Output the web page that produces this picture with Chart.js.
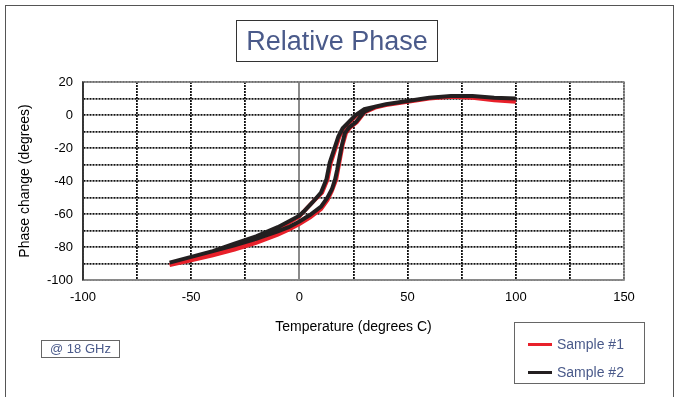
<!DOCTYPE html>
<html>
<head>
<meta charset="utf-8">
<script src="https://cdn.jsdelivr.net/npm/chart.js@4.4.0/dist/chart.umd.min.js"></script>
<style>
  body { margin: 0; background: #fff; font-family: "Liberation Sans", Arial, sans-serif; }
  #wrap { position: relative; width: 679px; height: 397px; overflow: hidden; }
  #frame { position: absolute; left: 5px; top: 5px; width: 669px; height: 400px; border: 1.5px solid #555; box-sizing: border-box; }
  #chartTitle { position: absolute; left: 236px; top: 20px; width: 202px; height: 42px; border: 1px solid #333;
    box-sizing: border-box; text-align: center; line-height: 40px; font-size: 27px; color: #4a5a8a; }
  #freq { position: absolute; left: 41px; top: 340px; width: 79px; height: 18px; border: 1px solid #666;
    box-sizing: border-box; text-align: center; line-height: 16px; font-size: 13px; color: #4a5a8a; }
  #legend { position: absolute; left: 514px; top: 322px; width: 131px; height: 62px; border: 1px solid #666; box-sizing: border-box; }
  .item { position: absolute; left: 13px; font-size: 14px; color: #4a5a8a; height: 16px; line-height: 16px; }
  .item span.sw { position: absolute; left: 0; top: 7px; width: 24px; height: 3px; }
  .item span.tx { position: absolute; left: 29px; white-space: nowrap; }
</style>
</head>
<body>
<div id="wrap">
  <div id="frame"></div>
  <canvas id="phaseChart" width="679" height="397" style="position:absolute;left:0;top:0;"></canvas>
  <div id="chartTitle">Relative Phase</div>
  <div id="freq">@ 18 GHz</div>
  <div id="legend"></div>
</div>
<script>
// sample #1 (red): heating branch then cooling branch
var sample1Temp = [-60,-50,-40,-30,-20,-10,-5,0,5,10,13,15,17,18,19,20,21.5,23.5,26.5,30,35,40,50,60,70,80,90,100,
                   90,80,70,60,50,40,35,30,26.5,23.5,20.5,18.5,16.5,14.5,13,10.5,6,2,0,-5,-10,-20,-30,-40,-50,-60];
var sample1Phase = [-91,-88,-85,-81.5,-77.5,-72.5,-69.5,-66,-62,-57,-51.5,-46,-39,-32,-25,-18,-11,-7.5,-4.5,1.5,4.5,6,8,10,11,10.5,9,8,
                    9,10.5,11,10,8,6,4.5,3,0,-4,-8,-13,-21,-29,-39,-47,-53,-58.5,-61.5,-65.5,-69.5,-75,-79.5,-84,-87.5,-91];

// sample #2 (black)
var sample2Temp = [-60,-50,-40,-30,-20,-10,-5,0,5,10,13,15,16.5,17.5,18.5,19.5,21,23,26,30,35,40,50,60,70,80,90,100,
                   90,80,70,60,50,40,35,30,26,23,20,18,16,14,12.5,10,6,2,0,-5,-10,-20,-30,-40,-50,-60];
var sample2Phase = [-89.5,-86,-82.5,-79,-75,-70.5,-68,-64.5,-60.5,-55.5,-50,-45,-39,-33,-26,-19,-11,-7.5,-4.5,2,5,6.5,8.5,10.5,11.5,11.5,10.5,10,
                    10.5,11.5,11.5,10.5,8.5,6.5,5,3.5,0,-4,-8,-13,-21,-29,-39,-47,-53,-58.5,-61,-64.5,-68,-73.5,-78,-82.5,-86,-89.5];

var seriesNames = ["Sample #1", "Sample #2"];
var seriesColors = ["#e8202a", "#231f20"];

function toPoints(xs, ys) {
    var pts = [];
    for (var i = 0; i < xs.length; i++) pts.push({ x: xs[i], y: ys[i] });
    return pts;
}

var dotted = [2, 1];

// solid frame around the plot area
var plotBorder = {
    id: "plotBorder",
    afterDraw: function (chart) {
        var a = chart.chartArea, ctx = chart.ctx;
        ctx.save();
        ctx.strokeStyle = "#8a8a8a";
        ctx.lineWidth = 1.5;
        ctx.strokeRect(a.left, a.top, a.right - a.left, a.bottom - a.top);
        ctx.strokeStyle = "#222";
        ctx.beginPath();
        ctx.moveTo(a.left, a.top);
        ctx.lineTo(a.left, a.bottom);
        ctx.stroke();
        ctx.restore();
    }
};

Chart.defaults.font.family = '"Liberation Sans", Arial, sans-serif';
Chart.defaults.color = "#000";

var chart = new Chart("phaseChart", {
    type: "scatter",
    data: {
        datasets: [
            {
                label: seriesNames[0],
                data: toPoints(sample1Temp, sample1Phase),
                borderColor: seriesColors[0],
                backgroundColor: seriesColors[0],
                showLine: true,
                pointRadius: 0,
                borderWidth: 4,
                order: 2,
            },
            {
                label: seriesNames[1],
                data: toPoints(sample2Temp, sample2Phase),
                borderColor: seriesColors[1],
                backgroundColor: seriesColors[1],
                showLine: true,
                pointRadius: 0,
                borderWidth: 4,
                order: 1,
            },
        ],
    },
    options: {
        responsive: false,
        animation: false,
        layout: { padding: { left: 13, top: 82, right: 55, bottom: 61 } },
        plugins: {
            legend: { display: false },
            title: { display: false },
            tooltip: { enabled: false },
        },
        scales: {
            x: {
                type: "linear",
                min: -100,
                max: 150,
                afterFit: function (s) { s.height = 56; },
                ticks: {
                    stepSize: 25,
                    autoSkip: false,
                    padding: 10,
                    font: { size: 13 },
                    maxRotation: 0,
                    callback: function (v) { return v % 50 === 0 ? String(v) : ""; },
                },
                grid: {
                    drawTicks: false,
                    color: function (c) { return c.tick && c.tick.value === 0 ? "#8a8a8a" : "#111"; },
                    lineWidth: function (c) { return c.tick && c.tick.value === 0 ? 2 : 1.8; },
                },
                border: {
                    color: "#8a8a8a",
                    width: 1.5,
                    dash: function (c) { return c.tick && c.tick.value === 0 ? [] : dotted; },
                },
                title: {
                    display: true,
                    text: "Temperature (degrees C)",
                    font: { size: 14 },
                    padding: { top: 0, bottom: 0 },
                },
            },
            y: {
                type: "linear",
                min: -100,
                max: 20,
                afterFit: function (s) { s.width = 70; },
                ticks: {
                    stepSize: 10,
                    autoSkip: false,
                    padding: 10,
                    font: { size: 13 },
                    callback: function (v) { return v % 20 === 0 ? String(v) : ""; },
                },
                grid: {
                    drawTicks: false,
                    color: "#111",
                    lineWidth: 1.8,
                },
                border: { color: "#222", width: 1.5, dash: dotted },
                title: {
                    display: true,
                    text: "Phase change (degrees)",
                    font: { size: 14 },
                    padding: { top: 4, bottom: 0 },
                },
            },
        },
    },
    plugins: [plotBorder],
});

// legend built from the datasets
var legendBox = document.getElementById("legend");
chart.data.datasets.forEach(function (ds, i) {
    var item = document.createElement("div");
    item.className = "item";
    item.style.top = (13 + i * 28) + "px";
    item.innerHTML = '<span class="sw" style="background:' + ds.borderColor + '"></span><span class="tx">' + ds.label + "</span>";
    legendBox.appendChild(item);
});
</script>
</body>
</html>
